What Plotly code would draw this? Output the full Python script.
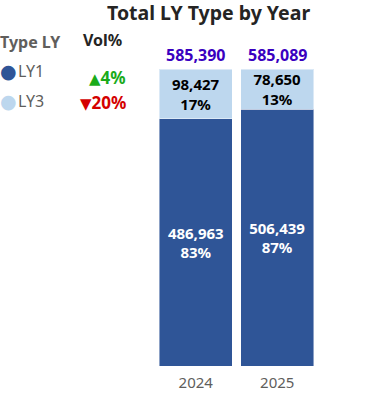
import plotly.graph_objects as go

years = ["2024", "2025"]
ly1 = [486963, 506439]
ly3 = [98427, 78650]
ly1_pct = ["83%", "87%"]
ly3_pct = ["17%", "13%"]
series_names = ["LY1", "LY3"]
vol_arrow = ["▲", "▼"]
vol_change = ["4%", "20%"]
vol_colors = ["#1AAB1A", "#D40000"]

totals = [a + b for a, b in zip(ly1, ly3)]
xi = list(range(len(years)))

c_dark = "#2F5597"
c_light = "#BDD7EE"
FONT = "Noto Sans"

fig = go.Figure()
fig.add_trace(go.Bar(
    x=xi, y=ly1, name="LY1", width=0.89,
    marker=dict(color=c_dark, line=dict(color="rgba(255,255,255,0.45)", width=1)),
    text=[f"{v:,}<br>{p}" for v, p in zip(ly1, ly1_pct)],
    textposition="inside", insidetextanchor="middle", textangle=0,
    textfont=dict(color="white", size=15, family=FONT, weight="bold"),
))
fig.add_trace(go.Bar(
    x=xi, y=ly3, name="LY3", width=0.89,
    marker=dict(color=c_light, line=dict(color="rgba(255,255,255,0.45)", width=1)),
    text=[f"{v:,}<br>{p}" for v, p in zip(ly3, ly3_pct)],
    textposition="inside", insidetextanchor="middle", textangle=0,
    textfont=dict(color="black", size=15, family=FONT, weight="bold"),
))

W, H = 366, 398
ml, mr, mt, mb = 155, 48, 69, 32
pw, ph = W - ml - mr, H - mt - mb

def px(xp):
    return (xp - ml) / pw

def py(yp):
    return (H - mb - yp) / ph

ann = []
for x, t in zip(xi, totals):
    ann.append(dict(x=x, y=t, xref="x", yref="y", text=f"<b>{t:,}</b>", showarrow=False,
                    xanchor="center", yanchor="bottom", yshift=1,
                    font=dict(color="#3A00C0", size=16, family=FONT)))

extra = [
    dict(x=px(208), y=py(12), text="<b>Total LY Type by Year</b>", font=dict(size=19.5, color="#252423", family=FONT)),
    dict(x=px(31), y=py(42), text="<b>Type LY</b>", font=dict(size=16, color="#605E5C", family=FONT)),
    dict(x=px(102), y=py(40), text="<b>Vol%</b>", font=dict(size=16, color="#252423", family=FONT)),
]
leg_y = [71, 101]
vol_y = [77, 102]
leg_c = [c_dark, c_light]
for name, yy, vy, cc, va, vc, vcol in zip(series_names, leg_y, vol_y, leg_c, vol_arrow, vol_change, vol_colors):
    extra.append(dict(x=px(8), y=py(yy), text="●", font=dict(size=19, color=cc, family="DejaVu Sans")))
    extra.append(dict(x=px(16), y=py(yy), text=name, xanchor="left", font=dict(size=16, color="#605E5C", family=FONT)))
    extra.append(dict(x=px(128), y=py(vy),
                      text=f"<span style='font-family:DejaVu Sans;font-size:15px'>{va}</span><b>{vc}</b>",
                      xanchor="right", font=dict(size=17, color=vcol, family=FONT)))

for e in extra:
    e.setdefault("xanchor", "center")
    e.update(xref="paper", yref="paper", showarrow=False, yanchor="middle")

fig.update_layout(
    annotations=ann + extra,
    barmode="stack",
    width=W, height=H,
    margin=dict(l=ml, r=mr, t=mt, b=mb, autoexpand=False),
    plot_bgcolor="white", paper_bgcolor="white",
    showlegend=False,
    uniformtext=dict(mode="show", minsize=15),
    xaxis=dict(range=[-0.5, len(years) - 0.5], tickmode="array", tickvals=xi, ticktext=years,
               showgrid=False, zeroline=False, showline=False, ticks="", ticklabelstandoff=6,
               automargin=False,
               tickfont=dict(size=15, color="#605E5C", family=FONT)),
    yaxis=dict(visible=False, range=[0, max(totals)], automargin=False),
)
fig.write_html("out.html", config={"displayModeBar": False},
               post_script="document.body.style.margin='0';document.body.style.overflow='hidden';")
